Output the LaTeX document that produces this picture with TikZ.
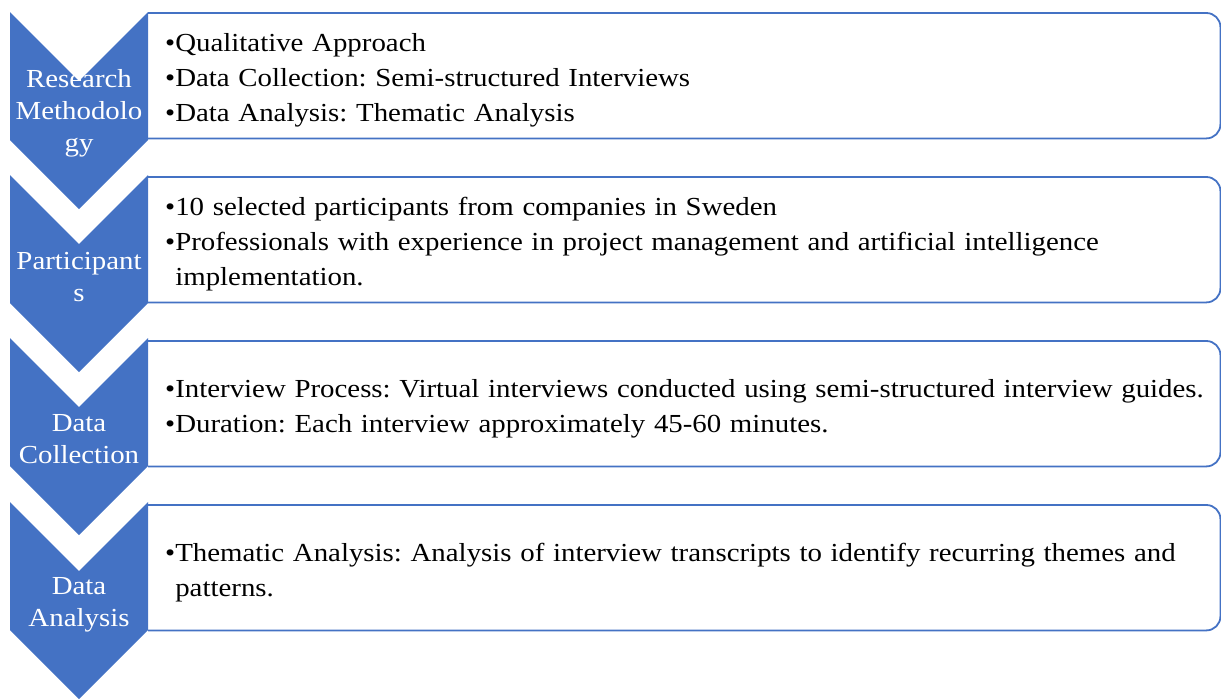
\documentclass[tikz,border=0pt]{standalone}
\usepackage{fontspec}
\setmainfont[FakeStretch=1.11]{Liberation Serif}
\usetikzlibrary{positioning}
\definecolor{accent}{HTML}{4472C4}
\frenchspacing

\begin{document}
\begin{tikzpicture}[x=1pt, y=-1pt,
    chev/.style={text=white, align=center, inner sep=0pt,
      font=\fontsize{26}{32}\selectfont},
    box/.style={anchor=north west, minimum width=1072pt,
      minimum height=125pt, inner sep=0pt},
    txt/.style={anchor=west, text width=1055pt, inner xsep=17pt,
      align=left, font=\fontsize{26}{35}\selectfont},
    frame/.style={draw=accent, line width=1.8pt, rounded corners=14pt}]

  \useasboundingbox (0,0) rectangle (1221,699);

  \node[box] (a) at (148,13) {};
  \node[box] (b) at (148,177) {};
  \node[box] (c) at (148,341) {};
  \node[box] (d) at (148,505) {};

  \draw[frame] (a.north west) -- (a.north east) -- (a.south east) -- (a.south west);
  \draw[frame] (b.north west) -- (b.north east) -- (b.south east) -- (b.south west);
  \draw[frame] (c.north west) -- (c.north east) -- (c.south east) -- (c.south west);
  \draw[frame] (d.north west) -- (d.north east) -- (d.south east) -- (d.south west);

  \node[txt] (ta) at ([yshift=-4.5pt]a.west) {•Qualitative Approach\\
    •Data Collection: Semi-structured Interviews\\
    •Data Analysis: Thematic Analysis};
  \node[txt] (tb) at ([yshift=-4.5pt]b.west) {•10 selected participants from companies in Sweden\\
    •Professionals with experience in project management and artificial intelligence\\
    \phantom{•}implementation.};
  \node[txt] (tc) at ([yshift=-5pt]c.west) {•Interview Process: Virtual interviews conducted using semi-structured interview guides.\\
    •Duration: Each interview approximately 45-60 minutes.};
  \node[txt] (td) at ([yshift=-5pt]d.west) {•Thematic Analysis: Analysis of interview transcripts to identify recurring themes and\\
    \phantom{•}patterns.};

  % chevrons, 45 degree notch and point
  \fill[accent] (10,12) -- (79,81) -- (148,12) -- (148,140) -- (79,209) -- (10,140) -- cycle;
  \fill[accent] (10,175) -- (79,244) -- (148,175) -- (148,303) -- (79,372) -- (10,303) -- cycle;
  \fill[accent] (10,338) -- (79,407) -- (148,338) -- (148,466) -- (79,535) -- (10,466) -- cycle;
  \fill[accent] (10,502) -- (79,571) -- (148,502) -- (148,630) -- (79,699) -- (10,630) -- cycle;

  \node[chev] (A) at (79,113) {Research\\Methodolo\\gy};
  \node[chev] (B) at (79,277) {Participant\\s};
  \node[chev] (C) at (79,439) {Data\\Collection};
  \node[chev] (D) at (79,605) {Data\\Analysis};
\end{tikzpicture}
\end{document}
